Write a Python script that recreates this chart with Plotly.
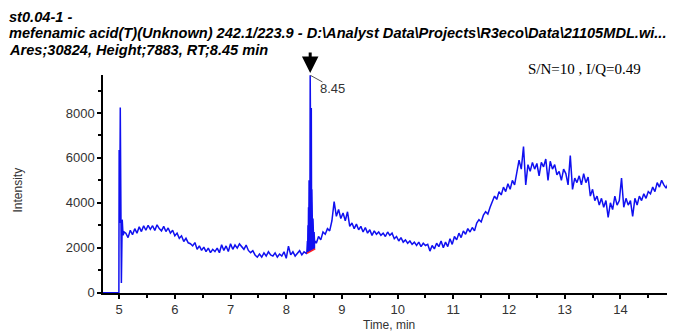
import numpy as np
import plotly.graph_objects as go

# ---- data ----
# injection spike region (explicit times)
t_start = [4.71, 4.995, 5.0, 5.01, 5.02, 5.04, 5.055, 5.07, 5.09]
v_start = [0, 0, 6350, 3100, 8240, 430, 3250, 2550, 2700]

# baseline 5.12 .. 8.36 min, step 0.04
t0_b, step_b = 5.12, 0.04
v_b = [2650, 2450, 2780, 2580, 2850, 2650, 2930, 2720, 2980, 2780,
       3000, 2820, 2980, 2770, 3020, 2850, 2750, 2950, 2720, 2880,
       2650, 2780, 2530, 2650, 2420, 2530, 2280, 2420, 2220, 2180,
       2080, 2230, 1930, 2080, 1880, 2030, 1830, 1980, 1780, 1930,
       1830, 1980, 1780, 2130, 1880, 2080, 1830, 2180, 1930, 2120,
       1980, 2170, 2030, 1930, 2120, 1880, 1780, 1870, 1680, 1580,
       1720, 1580, 1770, 1630, 1820, 1680, 1630, 1770, 1580, 1720,
       1630, 1820, 1530, 2070, 1680, 1820, 1630, 1770, 1870, 1680,
       1820, 1750]

# peak at RT 8.45 (explicit times)
t_peak = [8.37, 8.38, 8.385, 8.39, 8.395, 8.40, 8.405, 8.41, 8.415, 8.42,
          8.425, 8.43, 8.435, 8.44, 8.445, 8.45, 8.455, 8.46, 8.47, 8.48,
          8.49, 8.50, 8.51, 8.52]
v_peak = [1800, 2300, 2000, 3000, 2200, 3800, 2500, 5000, 2800, 4200,
          3200, 9680, 4200, 5300, 3600, 8220, 3200, 4600, 2900, 3300,
          2500, 2700, 2200, 2300]

# integration baseline (red)
t_base = [8.37, 8.52]
v_base = [1750, 1950]

# baseline 8.54 .. 14.98 min, step 0.04
t0_d, step_d = 8.54, 0.04
v_d = [2200, 2500, 2350, 2700, 2600, 2850, 2750, 3200, 4050, 3400,
       3700, 3300, 3550, 3200, 3600, 2950, 3100, 2850, 3050, 2800,
       2950, 2700, 2900, 2650, 2800, 2550, 2750, 2600, 2700, 2550,
       2650, 2500, 2700, 2550, 2650, 2400, 2500, 2300, 2450, 2250,
       2350, 2200, 2300, 2150, 2250, 2100, 2250, 2050, 2200, 2100,
       2150, 1850, 2100, 1950, 2200, 2050, 2300, 2000, 2250, 2050,
       2400, 2150, 2500, 2350, 2650, 2450, 2750, 2600, 2850, 2700,
       2900, 2750, 3100, 3250, 3150, 3450, 3600, 3500, 3800, 4100,
       4300, 4150, 4500, 4350, 4700, 4500, 4850, 4600, 5000, 4800,
       5400, 5900, 5500, 6500, 4800, 5700, 5400, 5800, 5500, 5750,
       5200, 5800, 5600, 5950, 5000, 5850, 5500, 5700, 5250, 5400,
       5000, 5500, 5300, 4800, 6100, 4600, 5100, 4900, 5200, 4800,
       5300, 4900, 5150, 4300, 4600, 4100, 4300, 3900, 4200, 3800,
       4100, 3350, 4000, 3700, 4300, 3900, 4100, 5100, 3800, 4200,
       3900, 4100, 3400, 4200, 3900, 4300, 4100, 4400, 4200, 4500,
       4400, 4700, 4500, 4900, 4700, 5000, 4800, 4650, 4900, 4150,
       4600, 4850]

x_ticks = [5, 6, 7, 8, 9, 10, 11, 12, 13, 14]
y_ticks = [0, 2000, 4000, 6000, 8000]

title_lines = ["st0.04-1 -",
               "mefenamic acid(T)(Unknown) 242.1/223.9 - D:\\Analyst Data\\Projects\\R3eco\\Data\\21105MDL.wi...",
               "Ares;30824, Height;7883, RT;8.45 min"]
sn_text = "S/N=10 , I/Q=0.49"
rt_label = "8.45"
rt_value = 8.43
apex_value = 9680

# ---- assemble trace ----
t_b = list(np.round(t0_b + step_b * np.arange(len(v_b)), 3))
t_d = list(np.round(t0_d + step_d * np.arange(len(v_d)), 3))
t_all = t_start + t_b + t_peak + t_d
v_all = v_start + v_b + v_peak + v_d

BLUE = "#1010f0"
fig = go.Figure()

# filled peak area down to integration baseline
fig.add_trace(go.Scatter(
    x=t_peak + t_base[::-1], y=v_peak + v_base[::-1],
    fill="toself", fillcolor=BLUE, line=dict(width=0), mode="lines",
    hoverinfo="skip", showlegend=False))
fig.add_trace(go.Scatter(x=t_all, y=v_all, mode="lines",
                         line=dict(color=BLUE, width=1.5), showlegend=False))
fig.add_trace(go.Scatter(x=t_base, y=v_base, mode="lines",
                         line=dict(color="#ff2020", width=1.5), showlegend=False))

# the page body keeps the browser's default 8px margin, so the figure is
# sized to fill the rest of the 675x334 window
OFF = 8
W, H = 675 - OFF, 334 - OFF
L, R, T, B = 103 - OFF, 0, 75 - OFF, 41
pw, ph = W - L - R, H - T - B


def px(x):  # window pixel -> paper x
    return (x - OFF - L) / pw


def py(y):  # window pixel -> paper y
    return (H - B - (y - OFF)) / ph


font_axis = dict(family="Liberation Sans, Arial, sans-serif", size=13, color="#333333")
title_font = dict(family="Liberation Sans, Arial, sans-serif", size=14.6, color="black")

ann = []
for i, yy in enumerate([17, 33, 49.5]):
    ann.append(dict(xref="paper", yref="paper", x=px(7), y=py(yy),
                    xanchor="left", yanchor="middle", showarrow=False,
                    text="<b><i>" + title_lines[i] + "</i></b>", font=title_font))
ann.append(dict(xref="paper", yref="paper", x=px(526), y=py(69), xanchor="left",
                yanchor="middle", showarrow=False, text=sn_text,
                font=dict(family="Liberation Serif, Times New Roman, serif", size=15,
                          color="black")))
# arrow marking the peak
ann.append(dict(xref="x", yref="paper", x=rt_value, y=py(73), ax=0, ay=-22,
                showarrow=True, arrowhead=2, arrowsize=1.1, arrowwidth=3,
                arrowcolor="black", text=""))
ann.append(dict(xref="paper", yref="paper", x=px(318), y=py(89), xanchor="left",
                yanchor="middle", showarrow=False, text=rt_label,
                font=dict(family="Liberation Sans, Arial, sans-serif", size=13,
                          color="#333333")))
ann.append(dict(xref="paper", yref="paper", x=0.5, y=py(325), xanchor="center",
                yanchor="middle", showarrow=False, text="Time, min",
                font=dict(family="Liberation Sans, Arial, sans-serif", size=12,
                          color="#333333")))
ann.append(dict(xref="paper", yref="paper", x=px(18), y=0.47, xanchor="center",
                yanchor="middle", showarrow=False, text="Intensity", textangle=-90,
                font=dict(family="Liberation Sans, Arial, sans-serif", size=12,
                          color="#333333")))

shapes = [
    dict(type="line", xref="x", yref="y", x0=rt_value, y0=apex_value,
         x1=rt_value + 0.22, y1=apex_value - 300, line=dict(color="#555555", width=1)),
]

fig.update_layout(
    width=W, height=H, margin=dict(l=L, r=R, t=T, b=B),
    plot_bgcolor="white", paper_bgcolor="white",
    annotations=ann, shapes=shapes, showlegend=False,
    xaxis=dict(range=[4.71, 14.98], tickvals=x_ticks, showline=True, linecolor="black",
               linewidth=1.5, ticks="outside", ticklen=4, tickwidth=1.5, tickcolor="black",
               minor=dict(dtick=0.5, tick0=0, ticks="outside", ticklen=3, tickwidth=1.5,
                          tickcolor="black"),
               showgrid=False, zeroline=False, tickfont=font_axis),
    yaxis=dict(range=[-15, 9690], tickvals=y_ticks, showline=True, linecolor="black",
               linewidth=1.5, ticks="outside", ticklen=4, tickwidth=1.5, tickcolor="black",
               minor=dict(dtick=1000, tick0=0, ticks="outside", ticklen=3, tickwidth=1.5,
                          tickcolor="black"),
               showgrid=False, zeroline=False, tickfont=font_axis),
)

fig.write_html("out.html")
